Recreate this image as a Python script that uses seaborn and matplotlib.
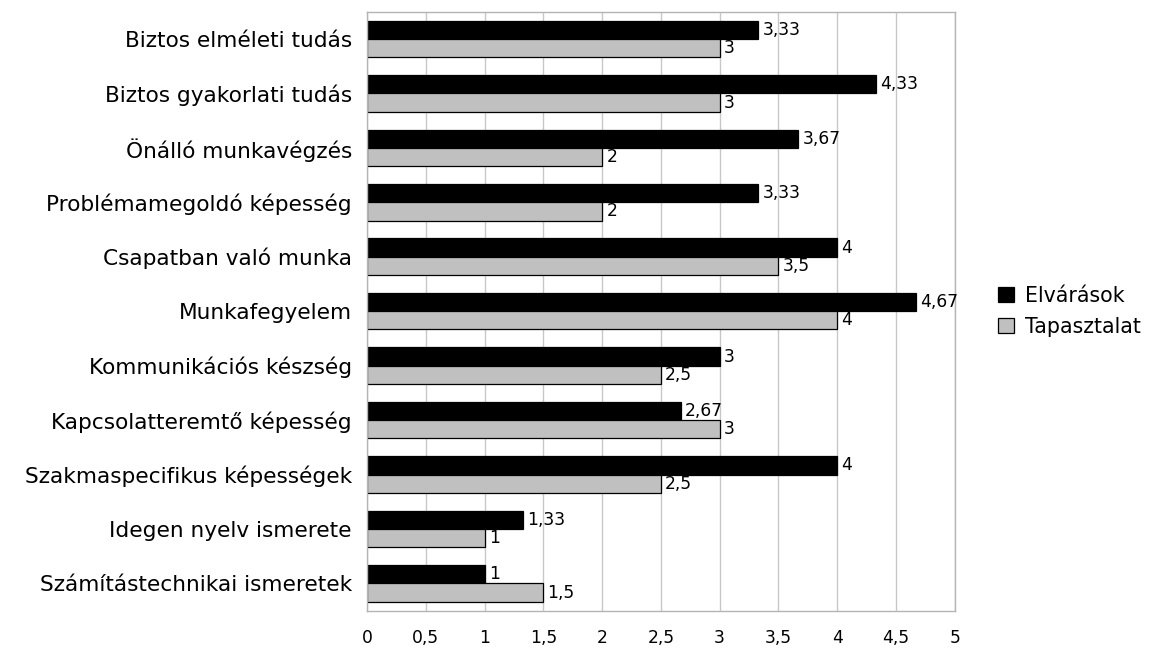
import matplotlib
matplotlib.use("Agg")
import matplotlib.pyplot as plt
import matplotlib.ticker as mticker
import seaborn as sns
import pandas as pd

# ── Data ───────────────────────────────────────────────────────────────────────
categories = [
    "Biztos elméleti tudás",
    "Biztos gyakorlati tudás",
    "Önálló munkavégzés",
    "Problémamegoldó képesség",
    "Csapatban való munka",
    "Munkafegyelem",
    "Kommunikációs készség",
    "Kapcsolatteremtő képesség",
    "Szakmaspecifikus képességek",
    "Idegen nyelv ismerete",
    "Számítástechnikai ismeretek",
]
elvarasok = [3.33, 4.33, 3.67, 3.33, 4, 4.67, 3, 2.67, 4, 1.33, 1]
tapasztalat = [3, 3, 2, 2, 3.5, 4, 2.5, 3, 2.5, 1, 1.5]
series = ["Elvárások", "Tapasztalat"]
x_ticks = [0, 0.5, 1, 1.5, 2, 2.5, 3, 3.5, 4, 4.5, 5]

PALETTE = {"Elvárások": "#000000", "Tapasztalat": "#c0c0c0"}


def hu(v):
    s = f"{v:.2f}".rstrip("0").rstrip(".")
    return s.replace(".", ",")


df = pd.DataFrame({
    "kategoria": categories * 2,
    "ertek": elvarasok + tapasztalat,
    "sorozat": [series[0]] * len(categories) + [series[1]] * len(categories),
})

sns.set_style("white")
plt.rcParams["font.family"] = ["DejaVu Sans"]
plt.rcParams["text.color"] = "black"
plt.rcParams["xtick.labelcolor"] = "black"
plt.rcParams["ytick.labelcolor"] = "black"

fig = plt.figure(figsize=(11.59, 6.51), dpi=100)
ax = fig.add_axes([0.3167, 0.062, 0.507, 0.92])

sns.barplot(
    data=df, y="kategoria", x="ertek", hue="sorozat", orient="h",
    palette=PALETTE, order=categories, hue_order=series,
    width=0.67, edgecolor="black", linewidth=0.9, ax=ax, legend=True,
)

for cont in ax.containers:
    ax.bar_label(cont, labels=[hu(b.get_width()) for b in cont],
                 padding=3, fontsize=12.3, color="black")

ax.set_xlim(0, 5)
ax.set_ylim(len(categories) - 0.5, -0.5)
ax.set_xticks(x_ticks)
ax.xaxis.set_major_formatter(mticker.FuncFormatter(lambda x, _: hu(x)))
ax.set_axisbelow(True)
ax.grid(axis="x", color="#c8c8c8", linewidth=1)
for sp in ax.spines.values():
    sp.set_color("#b4b4b4")
    sp.set_linewidth(1)
ax.tick_params(axis="both", length=5, color="#b4b4b4", width=1)
ax.tick_params(axis="y", labelsize=15.6, pad=6)
ax.tick_params(axis="x", labelsize=12.3, pad=8)
ax.set_xlabel("")
ax.set_ylabel("")

ax.legend(
    loc="center left", bbox_to_anchor=(1.06, 0.5), frameon=False,
    fontsize=14.8, handlelength=0.75, handleheight=0.75, handletextpad=0.55,
    labelspacing=0.55, borderaxespad=0,
)

plt.savefig("out.png", dpi=100)
